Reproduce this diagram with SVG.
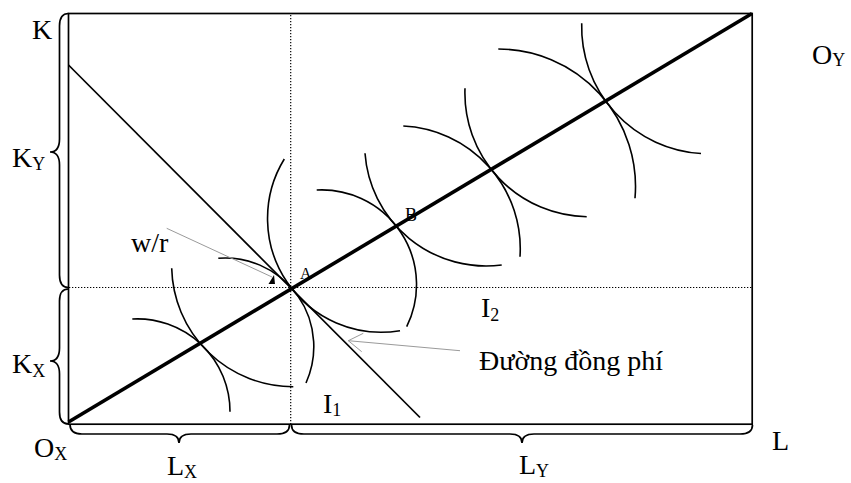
<svg xmlns="http://www.w3.org/2000/svg" width="851" height="483" viewBox="0 0 851 483">
<style>
text{font-family:"Liberation Serif","Times New Roman",serif;font-size:28px;fill:#000}
.sub{font-size:18px}
.frame{fill:none;stroke:#000;stroke-width:1.7}
.dot{fill:none;stroke:#000;stroke-width:1.2;stroke-dasharray:1.3 1.7}
.curve{fill:none;stroke:#000;stroke-width:1.6}
.brace{fill:none;stroke:#000;stroke-width:1.7}
.thin{fill:none;stroke:#9a9a9a;stroke-width:1}
</style>
<rect width="851" height="483" fill="#fff"/>
<g id="guides">
<line class="dot" x1="290.7" y1="15" x2="290.7" y2="424"/>
<line class="dot" x1="69" y1="287.5" x2="752" y2="287.5"/>
</g>
<g id="box">
<rect class="frame" x="68.5" y="13.5" width="683.7" height="410.7"/>
</g>
<g id="braces">
<path class="brace" d="M68.5,13.5 Q59.5,13.5 59.5,26 L59.5,139 Q59.5,152 50,152 Q59.5,152 59.5,165 L59.5,275 Q59.5,287.5 68.5,287.5"/>
<path class="brace" d="M68.5,289 Q59.5,289 59.5,301 L59.5,348 Q59.5,361 50,361 Q59.5,361 59.5,374 L59.5,412 Q59.5,424 68.5,424"/>
<path class="brace" d="M70,424.5 Q70,434 82,434 L167,434 Q179,434 179,443 Q179,434 191,434 L277,434 Q289.5,434 289.5,425"/>
<path class="brace" d="M291.5,425 Q291.5,434 304,434 L510,434 Q522,434 522,443 Q522,434 534,434 L740,434 Q752.5,434 752.5,425"/>
</g>
<g id="isoquants-y">
<path class="curve" d="M132.3,319 A92.7,92.7 0 0 1 230,411.7"/>
<path class="curve" d="M218.3,258.3 A88.6,88.6 0 0 1 306,383"/>
<path class="curve" d="M316.7,190 A94.8,94.8 0 0 1 406.7,326.7"/>
<path class="curve" d="M403.3,126 A122.8,122.8 0 0 1 520,256.7"/>
<path class="curve" d="M498.3,49 A137.4,137.4 0 0 1 635,198.3"/>
</g>
<g id="isoquants-x">
<path class="curve" d="M171.7,268.3 A121.4,121.4 0 0 0 293.3,386.7"/>
<path class="curve" d="M284.3,159 A113.8,113.8 0 0 0 400,330.7"/>
<path class="curve" d="M365,153.3 A121.5,121.5 0 0 0 501.7,265"/>
<path class="curve" d="M465,88.3 A123.6,123.6 0 0 0 586.7,216.7"/>
<path class="curve" d="M581.7,23.3 A127,127 0 0 0 701,153.5"/>
</g>
<g id="isocost">
<line x1="68.5" y1="65" x2="420" y2="417.5" stroke="#000" stroke-width="1.7"/>
</g>
<g id="pointers">
<line class="thin" x1="166.7" y1="228.3" x2="272" y2="277"/>
<polygon points="274,275 268.5,284 275,284" fill="#000"/>
<line class="thin" x1="460" y1="350.7" x2="348.3" y2="340.7"/>
<polyline class="thin" points="363.3,333.3 348.3,340.7 361.7,351.7"/>
</g>
<g id="point-labels">
<text x="300" y="279" style="font-size:16px">A</text>
<text x="405" y="221" style="font-size:18px">B</text>
</g>
<g id="expansion-path">
<line x1="68.5" y1="422" x2="752" y2="13.5" stroke="#000" stroke-width="3.6"/>
</g>
<g id="labels">
<text x="32" y="39">K</text>
<text x="12" y="167">K<tspan class="sub" dy="3">Y</tspan></text>
<text x="12" y="373">K<tspan class="sub" dy="4">X</tspan></text>
<text x="34" y="457">O<tspan class="sub" dy="3">X</tspan></text>
<text x="167" y="475">L<tspan class="sub" dy="3">X</tspan></text>
<text x="519" y="474">L<tspan class="sub" dy="3">Y</tspan></text>
<text x="772" y="450">L</text>
<text x="812" y="64">O<tspan class="sub" dy="2">Y</tspan></text>
<text x="131" y="252">w/r</text>
<text x="481" y="317">I<tspan class="sub" dy="4">2</tspan></text>
<text x="323" y="413">I<tspan class="sub" dy="3">1</tspan></text>
<text x="479" y="370">Đường đồng phí</text>
</g>
</svg>
